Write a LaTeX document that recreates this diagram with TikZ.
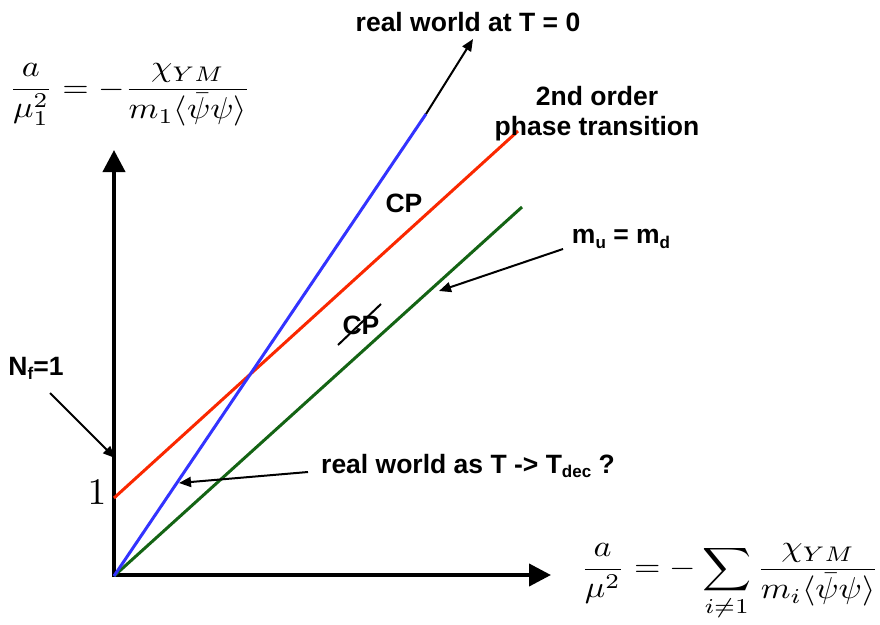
\documentclass[tikz,border=0pt]{standalone}
\usepackage{amsmath}
\usepackage{fontspec}
\newfontfamily\hv{Liberation Sans}
\usetikzlibrary{arrows.meta}
\definecolor{lblue}{RGB}{51,51,255}
\definecolor{lred}{RGB}{250,40,0}
\definecolor{lgreen}{RGB}{20,100,20}
\newcommand{\sbs}[1]{\raisebox{-0.3ex}{\fontsize{17}{17}\selectfont #1}}
\begin{document}
\begin{tikzpicture}[x=1pt,y=-1pt,
  lab/.style={font=\hv\bfseries\fontsize{26.5}{30}\selectfont, inner sep=0pt, align=center},
  axisline/.style={line width=4pt,-{Triangle[length=22pt,width=22pt]}},
  ptr/.style={line width=2pt,-{Triangle[length=12pt,width=10pt]}},
  phase/.style={line width=3pt},
  mth/.style={inner sep=0pt, xscale=3.4, yscale=3.02}
]
\useasboundingbox (0,0) rectangle (880,624);
% axes
\coordinate (O) at (114,576);
\coordinate (Ybot) at (114,577);
\coordinate (Xleft) at (112,575);
\coordinate (Ytip) at (114,150);
\coordinate (Xtip) at (551,575);
\draw[axisline] (Ybot) -- (Ytip);
\draw[axisline] (Xleft) -- (Xtip);
% phase lines
\coordinate (B1) at (426,114);
\coordinate (R0) at (114,498);
\coordinate (R1) at (518,131);
\coordinate (G1) at (522,207);
\draw[phase,lred] (R0) -- (R1);
\draw[phase,lgreen] (O) -- (G1);
\draw[phase,lblue] (O) -- (B1);
% labels
\node[lab] (t0) at (468,22) {real world at T = 0};
\node[lab] (pt) at (597,114) {2nd order\\phase transition};
\node[lab] (cp) at (404,203) {CP};
\node[lab] (cpx) at (361,325) {CP};
\node[lab] (mm) at (621,239) {m\sbs{u} = m\sbs{d}};
\node[lab] (nf) at (36,368) {N\sbs{f}=1};
\node[lab] (td) at (468,466) {real world as T -> T\sbs{dec} ?};
\node[inner sep=0pt, scale=3.75] (one) at (97,492) {$1$};
\node[mth] (ylab) at (130,95) {$\dfrac{a}{\mu_1^2} = -\dfrac{\chi_{YM}}{m_1\langle\bar\psi\psi\rangle}$};
\node[mth] (xlab) at (730,582) {$\dfrac{a}{\mu^2} = -\displaystyle\sum_{i\neq 1}\dfrac{\chi_{YM}}{m_i\langle\bar\psi\psi\rangle}$};
% pointers
\coordinate (t0tip) at (473,39);
\coordinate (nfs) at (50,393);
\coordinate (nft) at (115,458);
\coordinate (ms) at (563,249);
\coordinate (mt) at (439,291);
\coordinate (tds) at (308,472);
\coordinate (tdt) at (179,483);
\coordinate (sl1) at (338,345);
\coordinate (sl2) at (381,304);
\draw[ptr] (B1) -- (t0tip);
\draw[ptr] (nfs) -- (nft);
\draw[ptr] (ms) -- (mt);
\draw[ptr] (tds) -- (tdt);
\draw[line width=2pt] (sl1) -- (sl2);
\end{tikzpicture}
\end{document}
